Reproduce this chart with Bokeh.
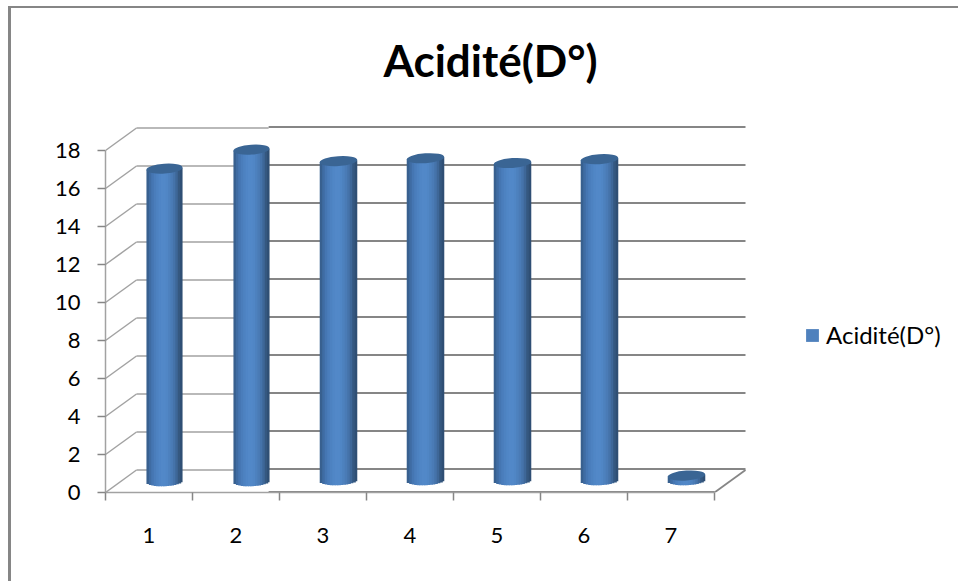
from bokeh.plotting import figure
from bokeh.embed import file_html
from bokeh.resources import INLINE
from bokeh.models import Range1d, FixedTicker, Legend, LegendItem, Label
import numpy as np

series_name = "Acidité(D°)"
categories = [1, 2, 3, 4, 5, 6, 7]
acidity = [16.45, 17.45, 16.8, 16.95, 16.7, 16.9, 0.25]
y_ticks = [0, 2, 4, 6, 8, 10, 12, 14, 16, 18]
shade = ["#38608f", "#3f6ca3", "#4576b2", "#4a7dbb", "#4d82c1", "#5086c6", "#5288c8", "#5288c8",
         "#5086c5", "#4d81be", "#4a7bb6", "#4573aa", "#3e6798", "#355880", "#2f4f74"]
top_color = "#3a6594"
grey_light = "#a2a2a2"
grey_dark = "#868686"

X0, X1 = 0.5, 7.5
DX, DY = 31 / 87, 22.5 / 19
BAR_W = 0.415
SPLIT = 2.375   # where the lines change weight in the reference
STEP = 0.05

p = figure(width=950, height=575, output_backend="svg", toolbar_location=None,
           x_range=Range1d(X0, X0 + 856 / 87), y_range=Range1d(0, 484 / 19),
           min_border_left=94, min_border_right=0, min_border_top=0, min_border_bottom=91)
p.margin = (6, 0, 0, 8)
p.styles = {"border-left": "3px solid #868686", "border-top": "2px solid #868686", "box-sizing": "border-box"}
p.background_fill_color = "white"
p.outline_line_color = None
p.grid.visible = False

# Title, inside the tall plot frame
p.add_layout(Label(x=3.695, y=22.75, text=series_name, text_font="Lato", text_font_style="bold",
                   text_font_size="44px", text_color="black", text_align="left", text_baseline="alphabetic"))

# Axes
ya = p.yaxis[0]
ya.ticker = FixedTicker(ticks=y_ticks)
ya.bounds = (0, 18)
ya.major_tick_out = 8
ya.major_tick_in = 0
ya.minor_tick_line_color = None
ya.axis_line_color = grey_light
ya.axis_line_width = 1.5
ya.major_tick_line_color = grey_dark
ya.major_tick_line_width = 1.5
ya.major_label_standoff = 17
ya.major_label_text_font = "Lato"
ya.major_label_text_font_size = "22px"
ya.major_label_text_color = "black"

xa = p.xaxis[0]
xa.ticker = FixedTicker(ticks=categories, minor_ticks=[c - 0.5 for c in categories] + [categories[-1] + 0.5])
xa.bounds = (X0, X1)
xa.major_tick_line_color = None
xa.major_tick_out = 0
xa.major_tick_in = 0
xa.minor_tick_out = 8
xa.minor_tick_in = 0
xa.minor_tick_line_color = grey_dark
xa.minor_tick_line_width = 1.5
xa.axis_line_color = grey_light
xa.axis_line_width = 1.5
xa.major_label_standoff = 27
xa.major_label_text_font = "Lato"
xa.major_label_text_font_size = "22px"
xa.major_label_text_color = "black"

# Side wall diagonals
p.segment([X0] * len(y_ticks), y_ticks, [X0 + DX] * len(y_ticks), [v + DY for v in y_ticks],
          line_color=grey_light, line_width=1.5)
# Back wall, thin then heavy
p.segment([X0 + DX] * len(y_ticks), [v + DY for v in y_ticks], [SPLIT] * len(y_ticks), [v + DY for v in y_ticks],
          line_color=grey_light, line_width=1.5)
p.segment([SPLIT] * len(y_ticks), [v + DY + STEP for v in y_ticks], [X1 + DX] * len(y_ticks), [v + DY + STEP for v in y_ticks],
          line_color=grey_dark, line_width=2)
# Floor
p.segment([SPLIT], [0.03], [X1], [0.03], line_color=grey_dark, line_width=2)
p.segment([X1], [0], [X1 + DX], [DY], line_color=grey_dark, line_width=1.8)

# Cylinders
half_h = 0.26
tilt = 0.05
n = len(shade)
edges = np.linspace(-1, 1, n + 1)
left, right, bottom, top, fill = [], [], [], [], []
ex, ey, ew, eh = [], [], [], []
for c, v in zip(categories, acidity):
    cx = c + DX / 2
    base = DY / 2 + (STEP if c >= 3 else 0)
    w = BAR_W * (1.04 if c >= 3 else 1)
    for i in range(n):
        u = (edges[i] + edges[i + 1]) / 2
        left.append(cx + edges[i] * w / 2)
        right.append(cx + edges[i + 1] * w / 2 + (0.012 if i < n - 1 else 0))
        bottom.append(base - half_h * np.sqrt(1 - u * u) + tilt * u)
        top.append(base + v + tilt * u)
        fill.append(shade[i])
    ex.append(cx)
    ey.append(base + v)
    ew.append(w)
    eh.append(2 * half_h)
p.quad(left=left, right=right, bottom=bottom, top=top, fill_color=fill, line_color=None)
p.ellipse(x=ex, y=ey, width=ew, height=eh, angle=0.07, fill_color=top_color, line_color=None)

# Legend
dummy = p.quad(left=[float("nan")], right=[float("nan")], bottom=[float("nan")], top=[float("nan")],
               fill_color="#4f81bd", line_color=None)
legend = Legend(items=[LegendItem(label=series_name, renderers=[dummy])], location=(699, 143),
                border_line_color=None, background_fill_alpha=0, padding=0, margin=0,
                glyph_width=16, glyph_height=16, label_standoff=6,
                label_text_font="Lato", label_text_font_size="24px", label_text_color="black")
p.add_layout(legend, "center")

open("out.html", "w").write(file_html(p, INLINE))
